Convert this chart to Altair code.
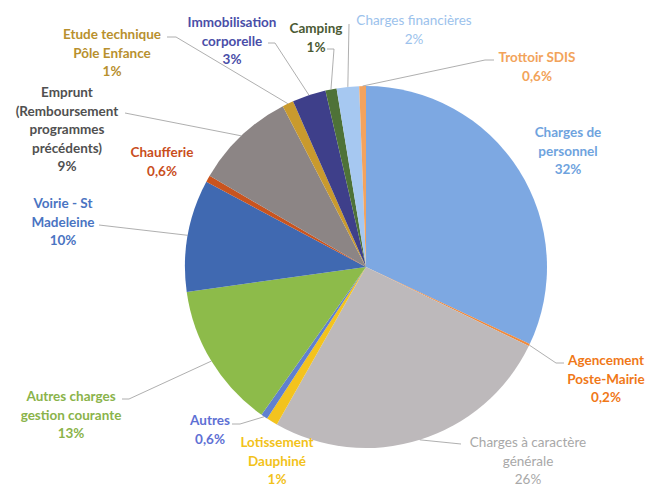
import math
import altair as alt
import pandas as pd

# ---------------- data ----------------
categories = [
    "Charges de personnel", "Agencement Poste-Mairie", "Charges à caractère générale",
    "Lotissement Dauphiné", "Autres", "Autres charges gestion courante",
    "Voirie - St Madeleine", "Chaufferie", "Emprunt (Remboursement programmes précédents)",
    "Etude technique Pôle Enfance", "Immobilisation corporelle", "Camping",
    "Charges financières", "Trottoir SDIS",
]
values = [32, 0.2, 26, 1, 0.6, 13, 10, 0.6, 9, 1, 3, 1, 2, 0.6]
pct_text = ["32%", "0,2%", "26%", "1%", "0,6%", "13%", "10%", "0,6%", "9%", "1%", "3%", "1%", "2%", "0,6%"]
label_names = [
    ["Charges de", "personnel"], ["Agencement", "Poste-Mairie"], ["Charges à caractère", "générale"],
    ["Lotissement", "Dauphiné"], ["Autres"], ["Autres charges", "gestion courante"],
    ["Voirie - St", "Madeleine"], ["Chaufferie"],
    ["Emprunt", "(Remboursement", "programmes", "précédents)"],
    ["Etude technique", "Pôle Enfance"], ["Immobilisation", "corporelle"], ["Camping"],
    ["Charges financières"], ["Trottoir SDIS"],
]

# ---------------- styles / layout ----------------
slice_colors = ["#7DA8E2", "#F08A3C", "#BDB9BB", "#F3C31E", "#6080D0", "#8DBB4A",
                "#4069B1", "#C9541F", "#8C8585", "#C99A2E", "#3E3F8A", "#4E7238",
                "#A6C8F1", "#F3A35E"]
label_colors = ["#6FA3DE", "#F07818", "#A8A8A8", "#F2C21A", "#5E70D4", "#8AB34A",
                "#4A74C2", "#C94E1C", "#505050", "#B8902E", "#4A4EA8", "#4B5A33",
                "#9CC2EC", "#F2A35A"]
# label block: centre x, centre y of first line, bold?
label_pos = [
    (568, 133, True), (606, 361, True), (528, 443, False), (277, 443, True),
    (210, 421, True), (71, 397, True), (63, 204, True), (162, 153, True),
    (67, 93, True), (112, 35, True), (232, 23, True), (316, 29, True),
    (414, 21, False), (537, 58, True),
]
# leader start points near labels (None = no leader)
leader_pts = [
    None, [(564, 363), (556, 363)], [(461, 444)], None,
    [(232, 424), (240, 424)], [(122, 399), (129, 399)], [(99, 225)], None,
    [(125, 113)], [(167, 37), (176, 37)], [(268, 43), (275, 43)], [(327, 49), (334, 49)],
    [(349, 24)], [(494, 60), (485, 60)],
]
CX, CY, R = 366, 267, 181
LH = 18.5

# ---------------- tables ----------------
pie_df = pd.DataFrame({"cat": categories, "value": values, "idx": range(len(values))})

total = sum(values)
rows_bold, rows_reg, lead_rows = [], [], []
cum = 0.0
for i, v in enumerate(values):
    mid = (cum + v / 2) / total * 2 * math.pi
    cum += v
    px, py = CX + R * math.sin(mid), CY - R * math.cos(mid)
    lines = label_names[i] + [pct_text[i]]
    cx, y0, bold = label_pos[i]
    for j, t in enumerate(lines):
        row = {"t": t, "x": cx, "y": y0 + j * LH, "c": label_colors[i]}
        (rows_bold if bold else rows_reg).append(row)
    if leader_pts[i]:
        pts = leader_pts[i] + [(px, py)]
        for k, (x, y) in enumerate(pts):
            lead_rows.append({"cat": categories[i], "k": k, "x": x, "y": y})

bold_df = pd.DataFrame(rows_bold)
reg_df = pd.DataFrame(rows_reg)
lead_df = pd.DataFrame(lead_rows)

pie = alt.Chart(pie_df).mark_arc(radius=R).encode(
    theta=alt.Theta("value:Q", stack=True),
    color=alt.Color("cat:N", scale=alt.Scale(domain=categories, range=slice_colors), legend=None),
    order=alt.Order("idx:Q"),
    x=alt.value(CX),
    y=alt.value(CY),
)

leaders = alt.Chart(lead_df).mark_line(color="#9A9A9A", strokeWidth=0.8).encode(
    x=alt.X("x:Q", scale=None, axis=None),
    y=alt.Y("y:Q", scale=None, axis=None),
    detail="cat:N",
    order="k:Q",
)

def text_layer(df, weight):
    return alt.Chart(df).mark_text(
        font="Lato", fontSize=13.5, fontWeight=weight, align="center", baseline="middle"
    ).encode(
        x=alt.X("x:Q", scale=None, axis=None),
        y=alt.Y("y:Q", scale=None, axis=None),
        text="t:N",
        color=alt.Color("c:N", scale=None),
    )

chart = alt.layer(pie, leaders, text_layer(bold_df, "bold"), text_layer(reg_df, "normal")).properties(
    width=649, height=488, autosize=alt.AutoSizeParams(type="none"), padding=0,
    background="white",
).configure_view(stroke=None)

chart.save("out.html", embed_options={"renderer": "svg", "actions": False})
